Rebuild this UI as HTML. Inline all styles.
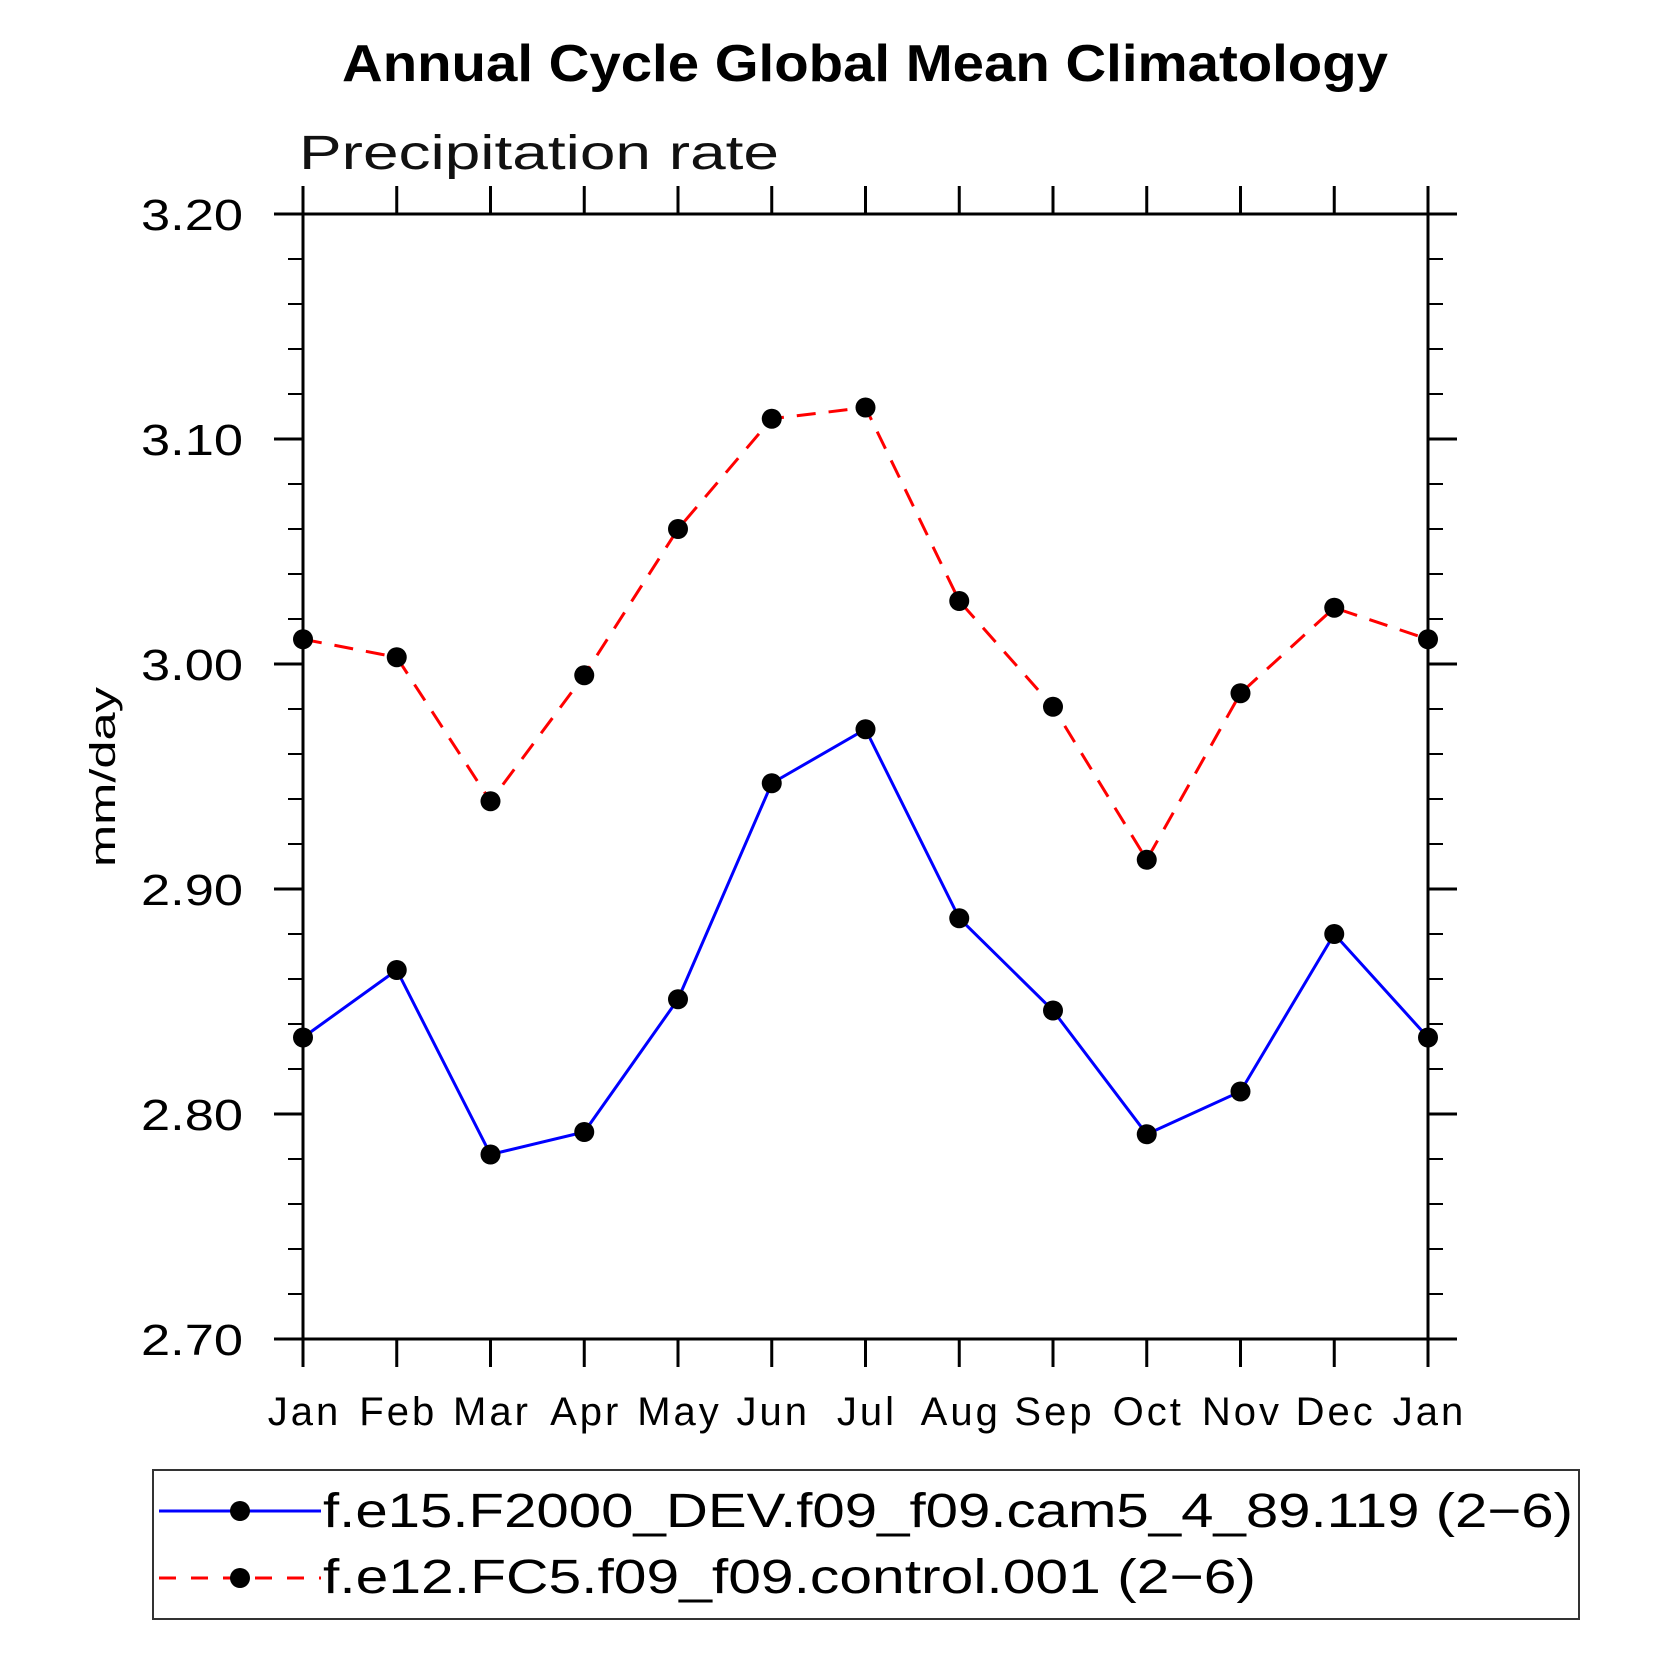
<!DOCTYPE html>
<html><head><meta charset="utf-8"><style>
html,body{margin:0;padding:0;background:#fff;}
svg{display:block;}
text{font-family:"Liberation Sans",sans-serif;}
</style></head><body>
<svg id="chart" width="1658" height="1658" viewBox="0 0 1658 1658" xmlns="http://www.w3.org/2000/svg">
<text x="865" y="81" text-anchor="middle" font-size="52" font-weight="bold" textLength="1046" lengthAdjust="spacingAndGlyphs">Annual Cycle Global Mean Climatology</text>
<text x="299" y="169" font-size="48" textLength="480" lengthAdjust="spacingAndGlyphs" fill="#111">Precipitation rate</text>
<text transform="translate(115,777) rotate(-90)" text-anchor="middle" font-size="36" textLength="180" lengthAdjust="spacingAndGlyphs">mm/day</text>
<g id="axes"></g>
<g id="series"></g>
<rect x="153" y="1470" width="1426" height="149" fill="none" stroke="#333" stroke-width="2"/>
<g>
<line x1="159" y1="1511" x2="321" y2="1511" stroke="#0000ff" stroke-width="3"/>
<circle cx="240" cy="1511" r="10" fill="#000"/>
<text x="323" y="1527" font-size="48" textLength="1250" lengthAdjust="spacingAndGlyphs">f.e15.F2000_DEV.f09_f09.cam5_4_89.119 (2−6)</text>
</g>
<g>
<line x1="159" y1="1578" x2="321" y2="1578" stroke="#ff0000" stroke-width="3" stroke-dasharray="17,15"/>
<circle cx="240" cy="1578" r="10" fill="#000"/>
<text x="323" y="1593" font-size="48" textLength="933" lengthAdjust="spacingAndGlyphs">f.e12.FC5.f09_f09.control.001 (2−6)</text>
</g>
</svg>
<script>
const months = ["Jan","Feb","Mar","Apr","May","Jun","Jul","Aug","Sep","Oct","Nov","Dec","Jan"];
const blueValues = [2.834,2.864,2.782,2.792,2.851,2.947,2.971,2.887,2.846,2.791,2.810,2.880,2.834];
const redValues = [3.011,3.003,2.939,2.995,3.060,3.109,3.114,3.028,2.981,2.913,2.987,3.025,3.011];
const yTickLabels = ["2.70","2.80","2.90","3.00","3.10","3.20"];
const yMin = 2.70, yMax = 3.20;

const NS = "http://www.w3.org/2000/svg";
const L = 303, R = 1428, T = 214, B = 1339;
function xPos(i){ return L + (R - L) * i / (months.length - 1); }
function yPos(v){ return B - (B - T) * (v - yMin) / (yMax - yMin); }
function mk(tag, attrs, parent){
  const e = document.createElementNS(NS, tag);
  for (const k in attrs) e.setAttribute(k, attrs[k]);
  parent.appendChild(e);
  return e;
}
const axes = document.getElementById("axes");
const frame = mk("rect", {x:L, y:T, width:R-L, height:B-T, fill:"none", stroke:"#000", "stroke-width":3}, axes);


months.forEach((m, i) => {
  const x = xPos(i);
  const tb = mk("line", {x1:x, y1:B, x2:x, y2:B+28, stroke:"#000", "stroke-width":3}, axes);
  
  
  const tt = mk("line", {x1:x, y1:T, x2:x, y2:T-28, stroke:"#000", "stroke-width":3}, axes);
  
  
  const lab = mk("text", {x:x+1.5, y:1425, "text-anchor":"middle", "font-size":40, "letter-spacing":3}, axes);
  lab.textContent = m;
  
  
});
for (let k = 0; k <= 25; k++) {
  const v = yMin + (yMax - yMin) * k / 25;
  const y = yPos(v);
  const major = k % 5 === 0;
  const len = major ? 29 : 15;
  const tl = mk("line", {x1:L, y1:y, x2:L-len, y2:y, stroke:"#000", "stroke-width":major?3:2}, axes);
  
  
  const tr = mk("line", {x1:R, y1:y, x2:R+len, y2:y, stroke:"#000", "stroke-width":major?3:2}, axes);
  
  
}
yTickLabels.forEach(s => {
  const y = yPos(parseFloat(s));
  const lab = mk("text", {x:141, y:y+16, "font-size":44, textLength:102, lengthAdjust:"spacingAndGlyphs"}, axes);
  lab.textContent = s;
  
  
});
const sg = document.getElementById("series");
function drawSeries(vals, color, dash, name){
  const pts = vals.map((v, i) => xPos(i) + "," + yPos(v)).join(" ");
  const pl = mk("polyline", {points:pts, fill:"none", stroke:color, "stroke-width":3, "stroke-dasharray":dash}, sg);
  
  
  vals.forEach((v, i) => {
    const c = mk("circle", {cx:xPos(i), cy:yPos(v), r:10, fill:"#000"}, sg);
    
    
  });
}
drawSeries(redValues, "#ff0000", "19,13", "control-series");
drawSeries(blueValues, "#0000ff", "none", "dev-series");
</script>
</body></html>
